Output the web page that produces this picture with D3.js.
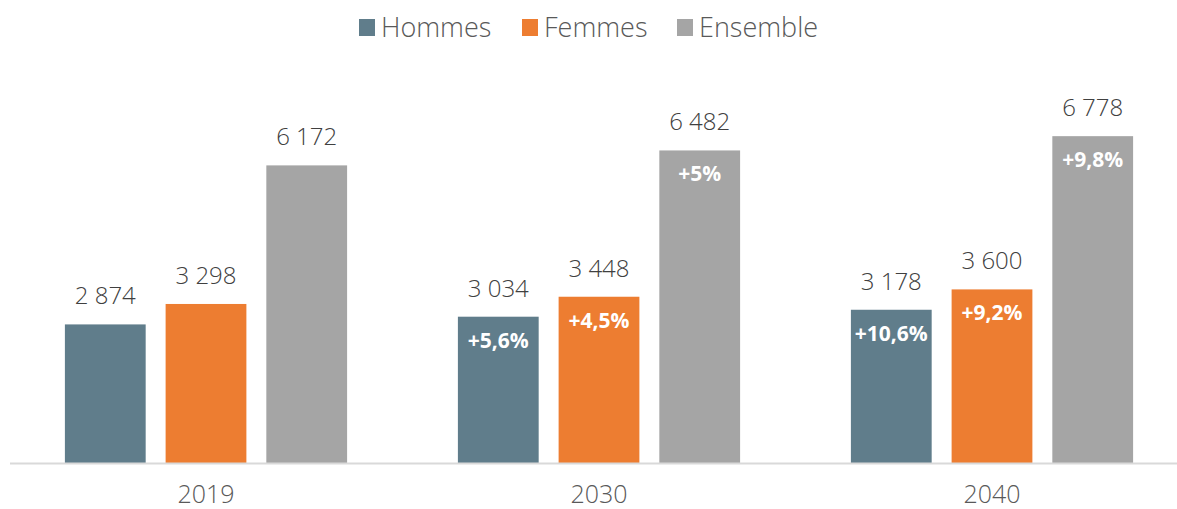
<!DOCTYPE html>
<html>
<head>
<meta charset="utf-8">
<script src="https://cdn.jsdelivr.net/npm/d3@7"></script>
<style>
  body { margin: 0; background: #fff; }
  svg { display: block; font-family: "Open Sans", sans-serif; }
</style>
</head>
<body>
<div id="chart"></div>
<script>
// data
var years = ["2019", "2030", "2040"];
var series = ["Hommes", "Femmes", "Ensemble"];
var hommes = [2874, 3034, 3178];
var femmes = [3298, 3448, 3600];
var ensemble = [6172, 6482, 6778];
var hommesPct = ["", "+5,6%", "+10,6%"];
var femmesPct = ["", "+4,5%", "+9,2%"];
var ensemblePct = ["", "+5%", "+9,8%"];

var colors = { "Hommes": "#607d8b", "Femmes": "#ed7d31", "Ensemble": "#a5a5a5" };

var width = 1177, height = 509;
var baseline = 463;

var svg = d3.select("#chart")
  .append("svg")
    .attr("width", width)
    .attr("height", height);

// group scale (outer one runs a bit past the right edge, like the original crop)
var x0 = d3.scaleBand()
    .domain(years)
    .range([9.5, 1188.5])
    .padding(0);

var x1 = d3.scaleBand()
    .domain(series)
    .range([0, x0.bandwidth()])
    .paddingInner(0.198)
    .paddingOuter(0.55);

var y = d3.scaleLinear()
    .domain([0, 8000])
    .range([baseline, baseline - 8000 * 0.04822]);

var rows = [];
years.forEach(function(yr, i) {
    rows.push({ year: yr, s: "Hommes", v: hommes[i], pct: hommesPct[i] });
    rows.push({ year: yr, s: "Femmes", v: femmes[i], pct: femmesPct[i] });
    rows.push({ year: yr, s: "Ensemble", v: ensemble[i], pct: ensemblePct[i] });
});

var fmt = function(v) { return d3.format(",")(v).replace(",", " "); };

// bars
svg.selectAll(".bar")
    .data(rows)
    .enter()
  .append("rect")
    .attr("class", "bar")
    .attr("x", function(d) { return x0(d.year) + x1(d.s); })
    .attr("width", x1.bandwidth())
    .attr("y", function(d) { return y(d.v); })
    .attr("height", function(d) { return baseline - y(d.v); })
    .attr("fill", function(d) { return colors[d.s]; });

// x axis line + year labels
var xAxis = d3.axisBottom(x0).tickSize(0).tickPadding(22);
var gx = svg.append("g")
    .attr("transform", "translate(0," + baseline + ")")
    .call(xAxis);
gx.select(".domain").attr("stroke", "#d9d9d9").attr("stroke-width", 2);
gx.selectAll("text")
    .attr("font-family", "Open Sans")
    .attr("font-weight", 300)
    .attr("font-size", 25)
    .attr("fill", "#595959");

// value labels
svg.selectAll(".val")
    .data(rows)
    .enter()
  .append("text")
    .attr("class", "val")
    .attr("x", function(d) { return x0(d.year) + x1(d.s) + x1.bandwidth() / 2; })
    .attr("y", function(d) { return y(d.v) - 20; })
    .attr("text-anchor", "middle")
    .attr("font-weight", 300)
    .attr("font-size", 24)
    .attr("fill", "#404040")
    .text(function(d) { return fmt(d.v); });

// growth labels inside bars
svg.selectAll(".pct")
    .data(rows.filter(function(d) { return d.pct; }))
    .enter()
  .append("text")
    .attr("class", "pct")
    .attr("x", function(d) { return x0(d.year) + x1(d.s) + x1.bandwidth() / 2; })
    .attr("y", function(d) { return y(d.v) + 31; })
    .attr("text-anchor", "middle")
    .attr("font-weight", 700)
    .attr("font-size", 21)
    .attr("fill", "#fff")
    .text(function(d) { return d.pct; });

// legend
var legendX = [359, 522, 677];
var legend = svg.selectAll(".leg")
    .data(series)
    .enter()
  .append("g")
    .attr("class", "leg")
    .attr("transform", function(d, i) { return "translate(" + legendX[i] + ",0)"; });

legend.append("rect")
    .attr("x", 0)
    .attr("y", 19)
    .attr("width", 16)
    .attr("height", 17)
    .attr("fill", function(d) { return colors[d]; });

legend.append("text")
    .attr("x", 22)
    .attr("y", 37)
    .attr("font-weight", 300)
    .attr("font-size", 27)
    .attr("fill", "#595959")
    .text(function(d) { return d; });
</script>
</body>
</html>
